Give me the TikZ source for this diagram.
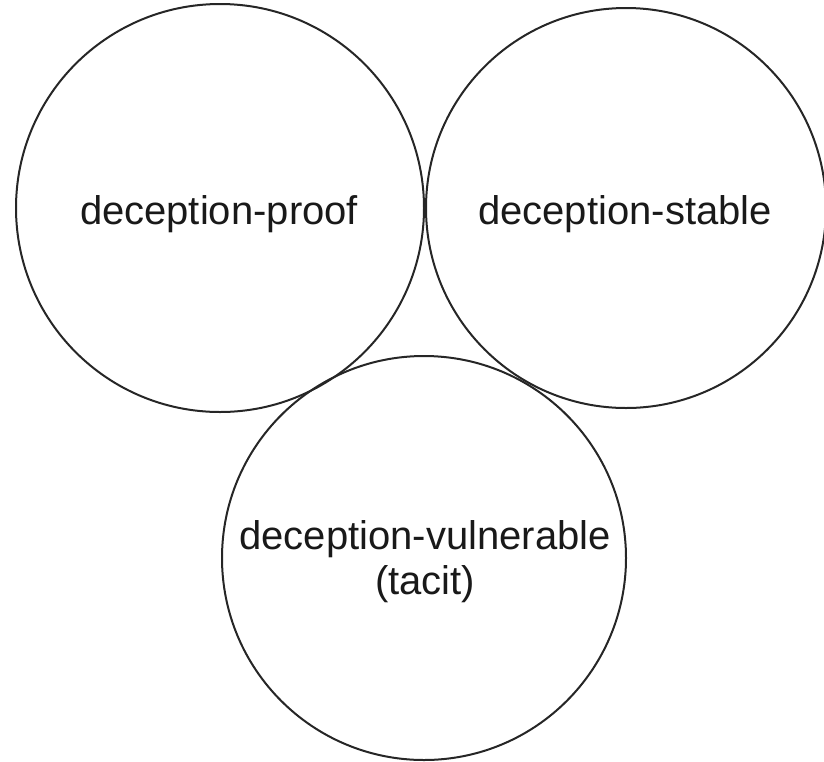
\documentclass[tikz,border=0pt]{standalone}
\usepackage{fontspec}
\setmainfont{Liberation Sans}
\begin{document}
\begin{tikzpicture}[x=1pt,y=-1pt,
  setcirc/.style={circle,draw=black!85,line width=2pt,minimum size=#1,inner sep=0pt},
  lbl/.style={font=\fontsize{40}{45}\selectfont,align=center,text=black!90}]
\useasboundingbox (0,0) rectangle (824,761);
\node[setcirc=408pt] (proof) at (220,208) {};
\node[setcirc=400pt] (stable) at (626,208) {};
\node[setcirc=404pt] (vuln) at (424,558) {};
\node[lbl] (tproof) at (219,214) {deception-proof};
\node[lbl] (tstable) at (625,214) {deception-stable};
\node[lbl] (tvuln) at (425,562) {deception-vulnerable\\(tacit)};
\end{tikzpicture}
\end{document}
